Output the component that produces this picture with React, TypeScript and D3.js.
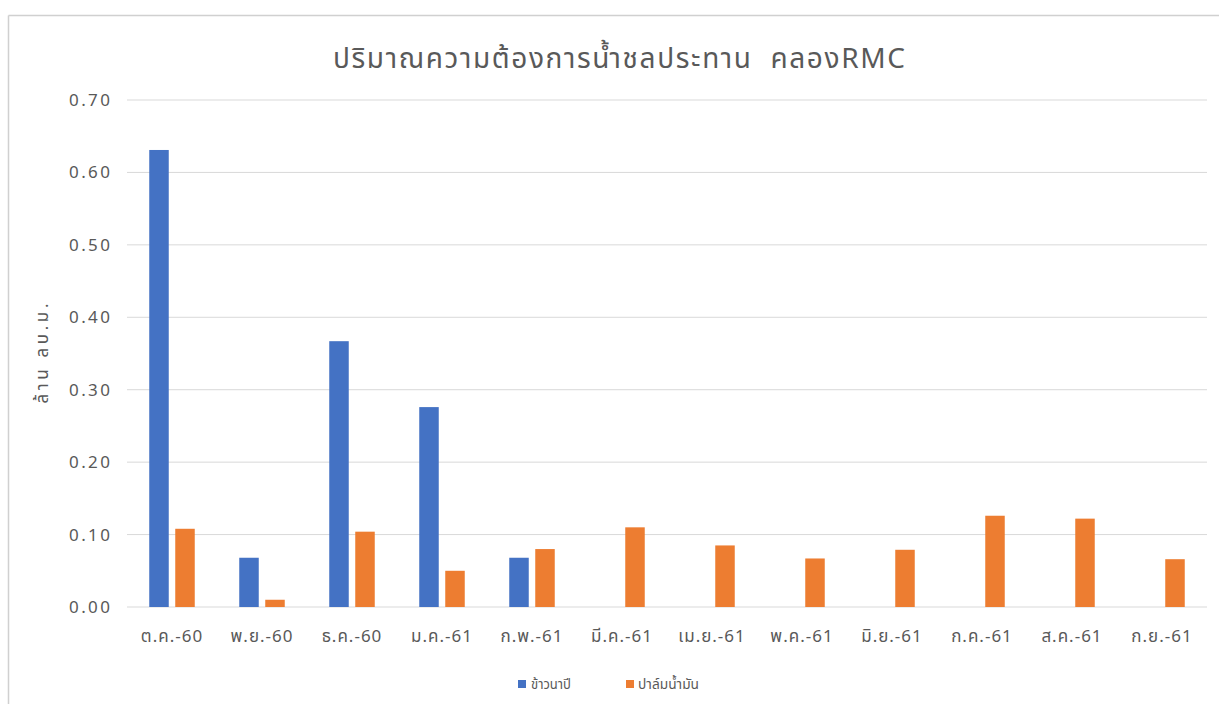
import React from "react";
import * as d3 from "d3";

const categories = ["ต.ค.-60", "พ.ย.-60", "ธ.ค.-60", "ม.ค.-61", "ก.พ.-61", "มี.ค.-61", "เม.ย.-61", "พ.ค.-61", "มิ.ย.-61", "ก.ค.-61", "ส.ค.-61", "ก.ย.-61"];
const riceValues = [0.631, 0.068, 0.367, 0.276, 0.068, 0, 0, 0, 0, 0, 0, 0];
const palmValues = [0.108, 0.010, 0.104, 0.050, 0.080, 0.110, 0.085, 0.067, 0.079, 0.126, 0.122, 0.066];
const seriesNames = ["ข้าวนาปี", "ปาล์มน้ำมัน"];
const yTicks = [0, 0.1, 0.2, 0.3, 0.4, 0.5, 0.6, 0.7];
const title = "ปริมาณความต้องการน้ำชลประทาน  คลองRMC";
const yTitle = "ล้าน ลบ.ม.";

const W = 1219, H = 704;
const COLORS = ["#4472C4", "#ED7D31"];
const FONT = "'Noto Sans Thai', 'Leelawadee UI', Tahoma, 'Noto Sans', 'DejaVu Sans', sans-serif";

export default function App() {
  const left = 127, right = 1207, top = 100, bottom = 607;
  const x = d3.scaleBand<string>().domain(categories).range([left, right]).paddingInner(0).paddingOuter(0);
  const y = d3.scaleLinear().domain([0, 0.7]).range([bottom, top]);
  const bw = 19.5, gap = 6.5;
  const series = [riceValues, palmValues];

  return (
    <svg width={W} height={H} style={{ position: "absolute", left: 0, top: 0, background: "#fff" }} fontFamily={FONT}>
      <rect x={0} y={0} width={W} height={H} fill="#fff" />
      <line x1={8.5} y1={15.5} x2={W} y2={15.5} stroke="#D0D0D0" strokeWidth={1.5} />
      <line x1={8.5} y1={15.5} x2={8.5} y2={H} stroke="#D0D0D0" strokeWidth={1.5} />
      <text x={619} y={68} textAnchor="middle" fontSize={28} fill="#595959" textLength={572} lengthAdjust="spacing" style={{ whiteSpace: "pre" }}>{title}</text>
      {yTicks.map((t) => (
        <g key={t}>
          <line x1={left} x2={right} y1={y(t)} y2={y(t)} stroke="#D9D9D9" strokeWidth={1} />
          <text x={110} y={y(t)} dy="0.35em" textAnchor="end" fontSize={17} fill="#595959" textLength={41} lengthAdjust="spacing">{t.toFixed(2)}</text>
        </g>
      ))}
      <text transform={`translate(48,${(top + bottom) / 2}) rotate(-90)`} textAnchor="middle" fontSize={17} fill="#595959" textLength={100} lengthAdjust="spacing">{yTitle}</text>
      {series.map((vals, si) =>
        vals.map((v, i) => {
          if (v <= 0) return null;
          const cx = (x(categories[i]) as number) + x.bandwidth() / 2;
          const bx = si === 0 ? cx - gap / 2 - bw : cx + gap / 2;
          return <rect key={`${si}-${i}`} x={bx} y={y(v)} width={bw} height={y(0) - y(v)} fill={COLORS[si]} />;
        })
      )}
      {categories.map((c) => (
        <text key={c} x={(x(c) as number) + x.bandwidth() / 2} y={636} dy="0.35em" textAnchor="middle" fontSize={17} fill="#595959" letterSpacing={1}>{c}</text>
      ))}
      <g>
        <rect x={518} y={680} width={8} height={8} fill={COLORS[0]} />
        <text x={531} y={684} dy="0.35em" fontSize={14} fill="#595959" textLength={40} lengthAdjust="spacingAndGlyphs">{seriesNames[0]}</text>
        <rect x={626} y={680} width={8} height={8} fill={COLORS[1]} />
        <text x={638} y={684} dy="0.35em" fontSize={14} fill="#595959" textLength={61} lengthAdjust="spacingAndGlyphs">{seriesNames[1]}</text>
      </g>
    </svg>
  );
}
